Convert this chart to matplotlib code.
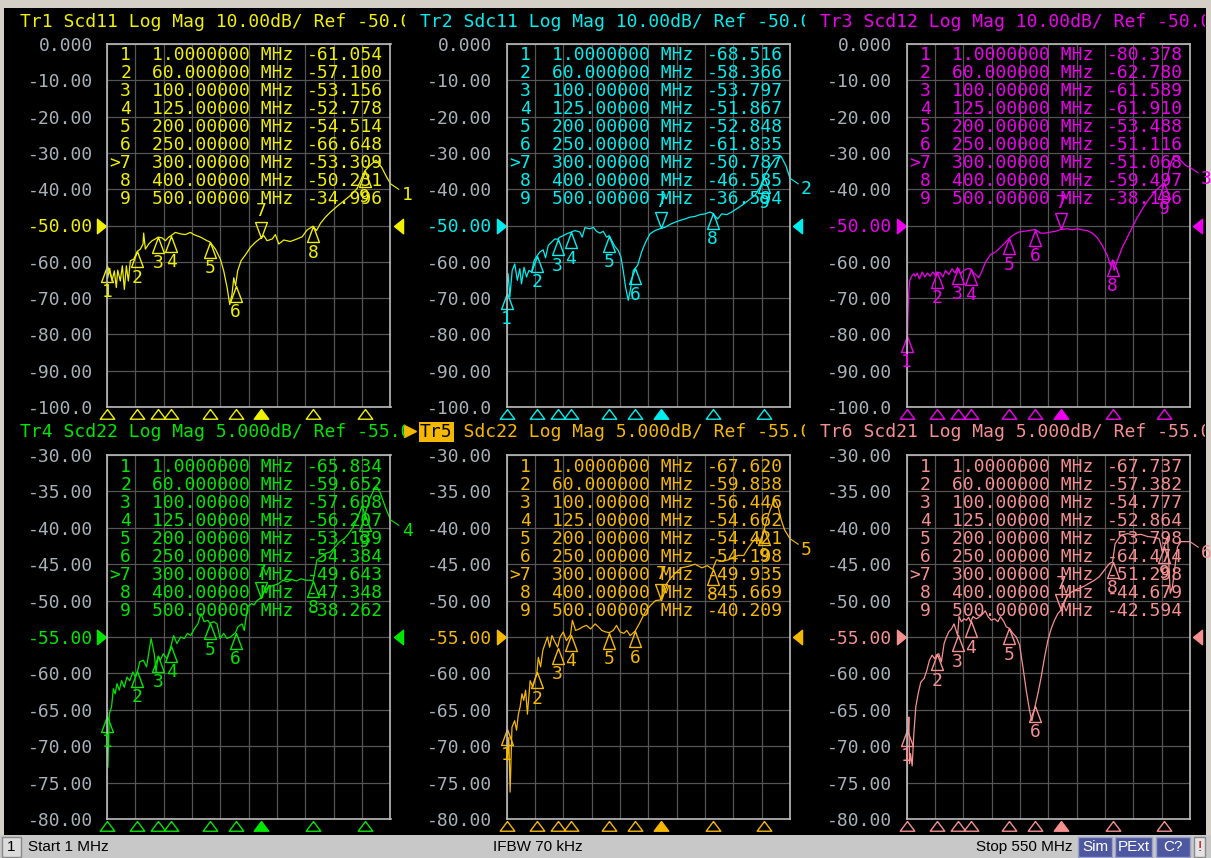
import matplotlib
matplotlib.use("Agg")
import matplotlib.pyplot as plt
from matplotlib.lines import Line2D
from matplotlib.patches import Rectangle
from matplotlib.transforms import Bbox

W, H = 1211, 858
MONO = "DejaVu Sans Mono"
UI = "Liberation Sans"

# markers shared by every trace
MARKER_F = [1, 60, 100, 125, 200, 250, 300, 400, 500]
MARKER_TXT = ["1.0000000", "60.000000", "100.00000", "125.00000", "200.00000",
              "250.00000", "300.00000", "400.00000", "500.00000"]
ACTIVE = 7

TR1_MK = [-61.054, -57.100, -53.156, -52.778, -54.514, -66.648, -53.309, -50.231, -34.996]
TR2_MK = [-68.516, -58.366, -53.797, -51.867, -52.848, -61.835, -50.787, -46.585, -36.594]
TR3_MK = [-80.378, -62.780, -61.589, -61.910, -53.488, -51.116, -51.068, -59.497, -38.186]
TR4_MK = [-65.834, -59.652, -57.608, -56.207, -53.139, -54.384, -49.643, -47.348, -38.262]
TR5_MK = [-67.620, -59.838, -56.446, -54.662, -54.421, -54.198, -49.935, -45.669, -40.209]
TR6_MK = [-67.737, -57.382, -54.777, -52.864, -53.798, -64.474, -51.298, -44.679, -42.594]

# traces, (MHz, dB)
TR1 = [(1, -61.1), (2.3, -64.4), (6.2, -61.8), (10.7, -65.3), (15.2, -62.5), (19, -67.1),
       (21.7, -62.3), (26.8, -65.3), (30.7, -61.1), (34.6, -67.6), (38.5, -61.1), (42.3, -65.3),
       (46.2, -59.7), (52.7, -59.3), (60, -57.1), (65.6, -56.5), (70.8, -55.1), (72, -52.1),
       (75.3, -56.5), (81.8, -55.1), (88.2, -54.2), (94.7, -53.7), (100, -53.2), (107.6, -53.4),
       (114, -54.2), (120.5, -53.2), (125, -52.8), (133.4, -51.9), (143, -52.3), (152.8, -52.5),
       (162.5, -51.9), (169, -52.5), (182, -53.2), (194.8, -54.2), (200, -54.5), (211, -56.5),
       (220.6, -59.3), (227, -62.5), (233.6, -67.1), (238.7, -71.8), (243, -69.0), (246.5, -64.4),
       (250, -66.6), (254, -62.5), (260.7, -59.7), (269, -58.1), (278.8, -56.0), (288.5, -54.6),
       (300, -53.3), (304.6, -52.8), (311, -54.2), (321, -53.7), (327, -52.5), (333.7, -55.1),
       (343.4, -54.0), (356, -54.4), (369, -53.7), (379, -53.1), (388.6, -51.2), (400, -50.2),
       (406.7, -51.4), (414.4, -49.4), (424, -47.7), (433.8, -46.3), (446.7, -44.7), (459.7, -43.2),
       (472.6, -41.7), (485.5, -39.8), (500, -35.0), (510, -33.5), (522, -32.0), (533, -34.0),
       (542, -36.5), (550, -38.5)]

TR2 = [(1, -68.5), (4.2, -63.3), (7.5, -69.7), (12, -62.4), (17, -60.6), (22, -65.1),
       (26.8, -61.9), (30, -66.1), (35, -61.5), (39.8, -64.2), (44.3, -62.4), (49.5, -62.8),
       (54.6, -59.6), (60, -58.4), (65.6, -57.3), (72, -56.7), (76.6, -58.9), (81.8, -55.5),
       (88.2, -54.6), (94.7, -53.7), (100, -53.8), (104.4, -53.2), (110.8, -52.8), (117.3, -52.3),
       (125, -51.9), (133.4, -51.4), (143, -51.8), (147.6, -53.2), (152.8, -50.6), (162.5, -50.9),
       (169, -50.5), (175.4, -51.6), (182, -52.1), (188.3, -51.6), (194.8, -53.2), (200, -52.8),
       (209.7, -55.5), (217.4, -56.9), (222.6, -58.7), (227, -62.4), (231.6, -67.0), (236.8, -70.6),
       (241.3, -67.4), (246.5, -62.4), (250, -61.8), (254.9, -61.0), (262.6, -57.3), (270.4, -54.6),
       (278.8, -52.3), (288.5, -51.4), (300, -50.8), (308, -50.5), (317.5, -49.7), (327.3, -49.1),
       (337, -48.6), (346.6, -48.2), (356.3, -47.7), (366, -47.5), (375.7, -47.0), (385.4, -46.8),
       (395, -46.3), (400, -46.6), (410, -48.2), (417.7, -46.8), (427.4, -47.0), (437, -46.3),
       (446.7, -45.4), (456.4, -44.5), (469.4, -43.1), (482, -41.7), (492, -39.5), (500, -36.6),
       (510, -34.0), (522, -31.5), (533, -31.0), (542, -33.5), (550, -37.0)]

TR3 = [(1, -80.4), (2, -87.0), (3.5, -76.0), (5.5, -68.0), (7.5, -65.0), (10, -64.3),
       (12, -63.8), (15.2, -63.3), (18.4, -64.0), (21.7, -63.1), (26.2, -64.7), (31.4, -62.8),
       (36.5, -64.2), (41.7, -63.1), (46.9, -64.0), (52, -62.8), (57.2, -63.8), (60, -62.8),
       (66.9, -63.1), (71.4, -64.2), (76.6, -62.4), (83, -63.5), (89.5, -61.9), (94.7, -63.1),
       (100, -61.6), (105.7, -63.3), (112, -62.4), (118.6, -61.9), (125, -61.9), (129, -62.8),
       (134.7, -63.5), (141, -64.4), (147.6, -62.4), (154, -60.1), (163.8, -58.0), (173.5, -57.3),
       (183, -56.0), (193, -54.6), (200, -53.5), (209, -52.5), (218.7, -51.8), (228.4, -51.6),
       (238, -51.4), (250, -51.1), (260.7, -52.1), (270.4, -52.1), (280, -51.8), (289.8, -51.6),
       (300, -51.1), (312.4, -50.9), (322, -51.2), (331.8, -50.9), (341.4, -51.2), (351, -51.4),
       (361, -52.1), (370.5, -53.4), (380.2, -55.5), (390, -58.3), (396, -61.0), (400, -59.5),
       (403, -62.4), (409.3, -59.6), (419, -56.0), (432, -52.3), (444.8, -48.6), (457.7, -45.4),
       (470.6, -42.7), (483.6, -40.4), (500, -38.2), (506, -36.7), (512.6, -33.0), (519, -30.7),
       (525.6, -31.2), (532, -32.1), (541.7, -33.5), (550, -34.0)]

TR4 = [(1, -65.8), (2.8, -72.9), (5.4, -65.6), (9.8, -64.6), (13.3, -62.1), (16.8, -62.8),
       (20.4, -61.4), (24.8, -62.3), (29.2, -61.0), (34.4, -61.9), (39.7, -60.5), (45, -61.0),
       (51.2, -59.8), (55.6, -60.5), (60, -59.7), (64.4, -58.4), (71.4, -58.2), (77.6, -59.1),
       (86.4, -55.2), (92.5, -57.3), (96, -59.8), (100, -57.6), (104, -58.2), (110, -57.3),
       (117, -58.0), (125, -56.2), (130, -54.8), (136.5, -55.9), (143.6, -55.0), (150.6, -55.2),
       (156.8, -54.5), (163, -54.8), (170, -53.9), (177, -53.2), (183, -51.8), (189.3, -52.9),
       (196.4, -52.7), (200, -53.1), (207.8, -52.9), (214, -53.2), (220, -55.2), (227, -54.5),
       (233.3, -55.2), (240, -55.0), (250, -54.4), (254.4, -53.6), (262.4, -53.2), (266.8, -54.1),
       (273, -50.9), (281, -50.4), (286, -50.6), (291.4, -50.0), (300, -49.6), (306.4, -48.6),
       (315, -48.1), (324, -47.9), (332.8, -47.7), (341.6, -47.2), (350.4, -47.4), (359, -47.1),
       (368, -47.3), (376.8, -47.0), (385.6, -47.2), (394.4, -47.2), (400, -47.3), (407.6, -44.4),
       (416, -44.0), (425, -43.5), (434, -43.3), (443, -42.6), (451.6, -41.9), (460.4, -41.5),
       (469, -40.8), (478, -39.9), (487, -38.5), (495.6, -36.9), (500, -38.3), (508.8, -36.2),
       (517.6, -34.8), (523.7, -34.4), (530.8, -35.3), (539.6, -37.1), (550, -38.9)]

TR5 = [(1, -67.6), (2.8, -72.0), (5.4, -68.8), (8, -76.3), (11.6, -67.4), (16.8, -66.5),
       (20.4, -67.8), (24, -65.6), (27.4, -64.6), (31, -62.8), (34.4, -63.7), (38, -62.3),
       (41.5, -65.6), (46.8, -61.0), (52, -61.9), (60, -59.8), (62.6, -57.8), (67, -59.1),
       (71.4, -56.8), (75.8, -55.9), (80.2, -55.0), (84.6, -56.4), (89, -54.8), (93.4, -55.5),
       (100, -56.4), (104.8, -55.0), (111, -54.3), (117, -55.5), (125, -54.7), (128.6, -52.7),
       (134.8, -54.1), (141.8, -53.9), (148.8, -53.6), (155.9, -53.4), (163.8, -53.9), (172.6, -53.2),
       (178.8, -53.6), (185.8, -54.1), (192.8, -54.3), (200, -54.4), (207.8, -54.1), (214, -53.4),
       (221, -54.3), (228, -54.5), (234, -54.1), (240.4, -54.8), (250, -54.2), (258, -53.2),
       (265, -52.2), (272, -51.3), (280.8, -50.6), (289.6, -50.0), (300, -49.9), (307, -48.1),
       (317.8, -47.0), (328.4, -46.2), (339.8, -45.5), (353, -45.3), (366, -45.0), (379.4, -45.5),
       (390, -45.2), (400, -45.7), (407.6, -44.4), (419, -44.6), (430.4, -44.4), (441, -44.0),
       (450, -43.8), (460.4, -43.8), (469, -42.8), (478, -41.9), (486.8, -41.2), (493.8, -42.2),
       (500, -40.2), (507, -38.5), (511.4, -37.6), (520, -36.0), (527, -37.1), (533.4, -39.0),
       (539.6, -40.3), (550, -41.5)]

TR6 = [(1, -90.0), (2, -67.7), (4.2, -68.3), (5.5, -66.0), (6.8, -72.4), (8.7, -71.0),
       (12, -72.7), (15.2, -68.3), (19, -64.6), (23.5, -62.8), (28.7, -61.2), (35.1, -60.7),
       (40.3, -59.6), (45.4, -58.2), (50.6, -57.5), (55.7, -58.0), (60, -57.4), (63.5, -57.3),
       (68.6, -58.4), (73.8, -55.9), (78.3, -55.0), (82.8, -54.3), (88, -53.9), (93.1, -53.2),
       (100, -54.8), (102.8, -52.2), (107.3, -52.9), (112.4, -52.5), (117, -52.7), (121.4, -52.3),
       (125, -52.9), (129.8, -52.2), (136.2, -52.5), (142.7, -52.2), (149, -51.8), (153.6, -51.4),
       (158.8, -52.2), (165.2, -52.7), (171.7, -52.5), (178, -52.9), (183, -52.2), (189.7, -52.9),
       (194.2, -53.6), (200, -53.8), (207, -54.5), (213.5, -55.0), (220, -56.1), (226.4, -59.1),
       (232.8, -62.3), (239.3, -65.1), (243.8, -66.5), (250, -64.5), (255.4, -62.8), (261.8, -60.5),
       (268.3, -57.8), (274.7, -55.5), (281, -53.9), (287.6, -52.7), (294, -51.8), (300, -51.3),
       (307, -50.0), (316.6, -49.0), (326.2, -48.6), (336, -48.3), (345.5, -48.0), (355.2, -47.6),
       (365, -47.2), (374.5, -46.7), (384.2, -45.8), (394, -44.9), (400, -44.7), (405, -42.2),
       (416.4, -41.0), (429, -40.8), (442, -41.0), (455, -40.9), (468, -41.2), (480.8, -41.3),
       (490.5, -41.5), (497, -43.5), (500, -42.6), (506.5, -41.2), (511.7, -49.0), (516, -48.1),
       (522.6, -44.4), (525.8, -42.6), (532.3, -41.9), (542, -41.9), (550, -41.9)]

TITLES = ["Tr1 Scd11 Log Mag 10.00dB/ Ref -50.00dB",
          "Tr2 Sdc11 Log Mag 10.00dB/ Ref -50.00dB",
          "Tr3 Scd12 Log Mag 10.00dB/ Ref -50.00dB",
          "Tr4 Scd22 Log Mag 5.000dB/ Ref -55.00dB",
          "Tr5 Sdc22 Log Mag 5.000dB/ Ref -55.00dB",
          "Tr6 Scd21 Log Mag 5.000dB/ Ref -55.00dB"]
COLORS = ["#f0f000", "#00eeee", "#ee00ee", "#00e600", "#f5b800", "#f59090"]

TOP_TICKS = [0, -10, -20, -30, -40, -50, -60, -70, -80, -90, -100]
TOP_TICK_TXT = ["0.000", "-10.00", "-20.00", "-30.00", "-40.00", "-50.00",
                "-60.00", "-70.00", "-80.00", "-90.00", "-100.0"]
BOT_TICKS = [-30, -35, -40, -45, -50, -55, -60, -65, -70, -75, -80]
BOT_TICK_TXT = ["-30.00", "-35.00", "-40.00", "-45.00", "-50.00", "-55.00",
                "-60.00", "-65.00", "-70.00", "-75.00", "-80.00"]

TRACES = [TR1, TR2, TR3, TR4, TR5, TR6]
MARKS = [TR1_MK, TR2_MK, TR3_MK, TR4_MK, TR5_MK, TR6_MK]

# screen geometry in pixels
COL_X = [107, 506.5, 906.5]
PLOT_W = 283.5
ROWS = [(44, 407, TOP_TICKS, TOP_TICK_TXT, "-50.00"),
        (455, 819, BOT_TICKS, BOT_TICK_TXT, "-55.00")]
FS = 13

MK_BELOW = [(0, 0), (-0.37, -1), (0.37, -1), (0, 0)]
MK_ABOVE = [(0, 0), (-0.37, 1), (0.37, 1), (0, 0)]
AX_TRI = [(0, 0), (-0.75, -1), (0.75, -1), (0, 0)]
REF_L = [(0, 0), (-1, 0.8), (-1, -0.8), (0, 0)]
REF_R = [(0, 0), (1, 0.8), (1, -0.8), (0, 0)]


def fx(x):
    return x / W


def fy(y):
    return 1 - y / H


fig = plt.figure(figsize=(W / 100, H / 100), dpi=100, facecolor="#d4d0c8")
fig.add_artist(Rectangle((fx(4), fy(835)), fx(1202), (835 - 8) / H,
                         transform=fig.transFigure, fc="black", ec="none", zorder=0))

for i in range(6):
    r, c = divmod(i, 3)
    y0, y1, ticks, tick_txt, ref_txt = ROWS[r]
    x0 = COL_X[c]
    col = COLORS[i]
    ax = fig.add_axes([fx(x0), fy(y1), fx(PLOT_W), (y1 - y0) / H])
    ax.set_facecolor("black")
    ax.set_xlim(1, 550)
    ax.set_ylim(ticks[-1], ticks[0])
    ax.set_xticks([1 + 54.9 * k for k in range(11)])
    ax.set_xticklabels([])
    ax.set_yticks(ticks)
    ax.set_yticklabels(tick_txt, fontfamily=MONO, fontsize=FS)
    ax.tick_params(length=0, pad=10, labelcolor="#a8b0b8")
    for lab in ax.get_yticklabels():
        if lab.get_text() == ref_txt:
            lab.set_color(col)
    ax.grid(True, color="#555555", lw=0.9)
    for s in ax.spines.values():
        s.set_color("#bcbcbc")
        s.set_linewidth(1.2)

    ref = float(ref_txt)
    ytr = ax.get_yaxis_transform()
    ax.plot([-1 / PLOT_W], [ref], marker=REF_L, ms=13, color=col, ls="none",
            transform=ytr, clip_on=False)
    ax.plot([1 + 3 / PLOT_W], [ref], marker=REF_R, ms=13, color=col, ls="none",
            transform=ytr, clip_on=False)

    # trace
    f = [p[0] for p in TRACES[i]]
    db = [p[1] for p in TRACES[i]]
    ax.plot(f, db, color=col, lw=0.9)

    # marker table (screen pixels from the top-left corner)
    for k in range(9):
        yb = fy(y0 + 16.5 + 18 * k)
        num = (">%d" if k + 1 == ACTIVE else "%d") % (k + 1)
        fig.text(fx(x0 + 24), yb, num, ha="right", va="baseline",
                 fontfamily=MONO, fontsize=FS, color=col)
        fig.text(fx(x0 + 45), yb, MARKER_TXT[k] + " MHz", ha="left",
                 va="baseline", fontfamily=MONO, fontsize=FS, color=col)
        fig.text(fx(x0 + 200), yb, "%.3f" % MARKS[i][k], ha="left",
                 va="baseline", fontfamily=MONO, fontsize=FS, color=col)

    # marker symbols on the trace
    xtr = ax.get_xaxis_transform()
    for k in range(9):
        fm, vm = MARKER_F[k], MARKS[i][k]
        active = k + 1 == ACTIVE
        ax.plot([fm], [vm], marker=MK_ABOVE if active else MK_BELOW, ms=23,
                mfc="none", mec=col, mew=1, ls="none", clip_on=False)
        ax.annotate(str(k + 1), (fm, vm), xytext=(0, 19 if active else -19),
                    textcoords="offset points", ha="center", va="center",
                    fontfamily=MONO, fontsize=FS, color=col, annotation_clip=False)
        ax.plot([fm], [-2 / (y1 - y0)], marker=AX_TRI, ms=14, mew=1,
                mfc=col if active else "none", mec=col, ls="none",
                transform=xtr, clip_on=False)

    # trace number at the right end
    ax.annotate(str(i + 1), (550, db[-1]), xytext=(8, -8), textcoords="offset points",
                ha="left", va="center", fontfamily=MONO, fontsize=FS, color=col,
                annotation_clip=False,
                arrowprops=dict(arrowstyle="-", color=col, lw=0.8, shrinkA=0, shrinkB=0))

    # title line, clipped at the panel edge
    tx = 20 + 400 * c
    ty = 27 if r == 0 else 437
    clip = Bbox.from_extents(5 + 400 * c, 0, 405 + 400 * c, H)
    if i == 4:
        fig.text(fx(tx), fy(ty), "Tr5", color="black", fontfamily=MONO, fontsize=FS,
                 va="baseline", bbox=dict(boxstyle="square,pad=0.08", fc=col, ec="none"))
        t = fig.text(fx(tx), fy(ty), "   " + TITLES[i][3:], color=col,
                     fontfamily=MONO, fontsize=FS, va="baseline")
        fig.add_artist(Line2D([fx(410)], [fy(431)], marker=">", ms=8, color=col,
                              transform=fig.transFigure))
    else:
        t = fig.text(fx(tx), fy(ty), TITLES[i], color=col, fontfamily=MONO,
                     fontsize=FS, va="baseline")
    t.set_clip_box(clip)
    t.set_clip_on(True)

# status bar
fig.add_artist(Rectangle((0, 0), 1, 23 / H, transform=fig.transFigure,
                         fc="#c8c8c8", ec="none"))
sy = fy(847)
fig.add_artist(Rectangle((fx(2), fy(857)), fx(19), 20 / H, transform=fig.transFigure,
                         fc="#dcdcdc", ec="#8a8a8a", lw=1))
fig.text(fx(11.5), sy, "1", ha="center", va="center", fontfamily=UI, fontsize=11)
fig.text(fx(28), sy, "Start 1 MHz", ha="left", va="center", fontfamily=UI, fontsize=11)
fig.text(fx(493), sy, "IFBW 70 kHz", ha="left", va="center", fontfamily=UI, fontsize=11)
fig.text(fx(1073), sy, "Stop 550 MHz", ha="right", va="center", fontfamily=UI, fontsize=11)
for x_a, x_b, lab in [(1078, 1112, "Sim"), (1115, 1152, "PExt"), (1156, 1190, "C?")]:
    fig.add_artist(Rectangle((fx(x_a), fy(857)), fx(x_b - x_a), 20 / H,
                             transform=fig.transFigure, fc="#4e58a0", ec="#9aa0c8", lw=1))
    fig.text(fx((x_a + x_b) / 2), sy, lab, ha="center", va="center", color="white",
             fontfamily=UI, fontsize=11)
fig.add_artist(Rectangle((fx(1194), fy(857)), fx(11), 20 / H, transform=fig.transFigure,
                         fc="#e4e4e4", ec="#8a8a8a", lw=1))
fig.text(fx(1199.5), sy, "!", ha="center", va="center", color="#b00000",
         fontfamily=UI, fontsize=11)

fig.savefig("out.png", dpi=100, facecolor=fig.get_facecolor())
